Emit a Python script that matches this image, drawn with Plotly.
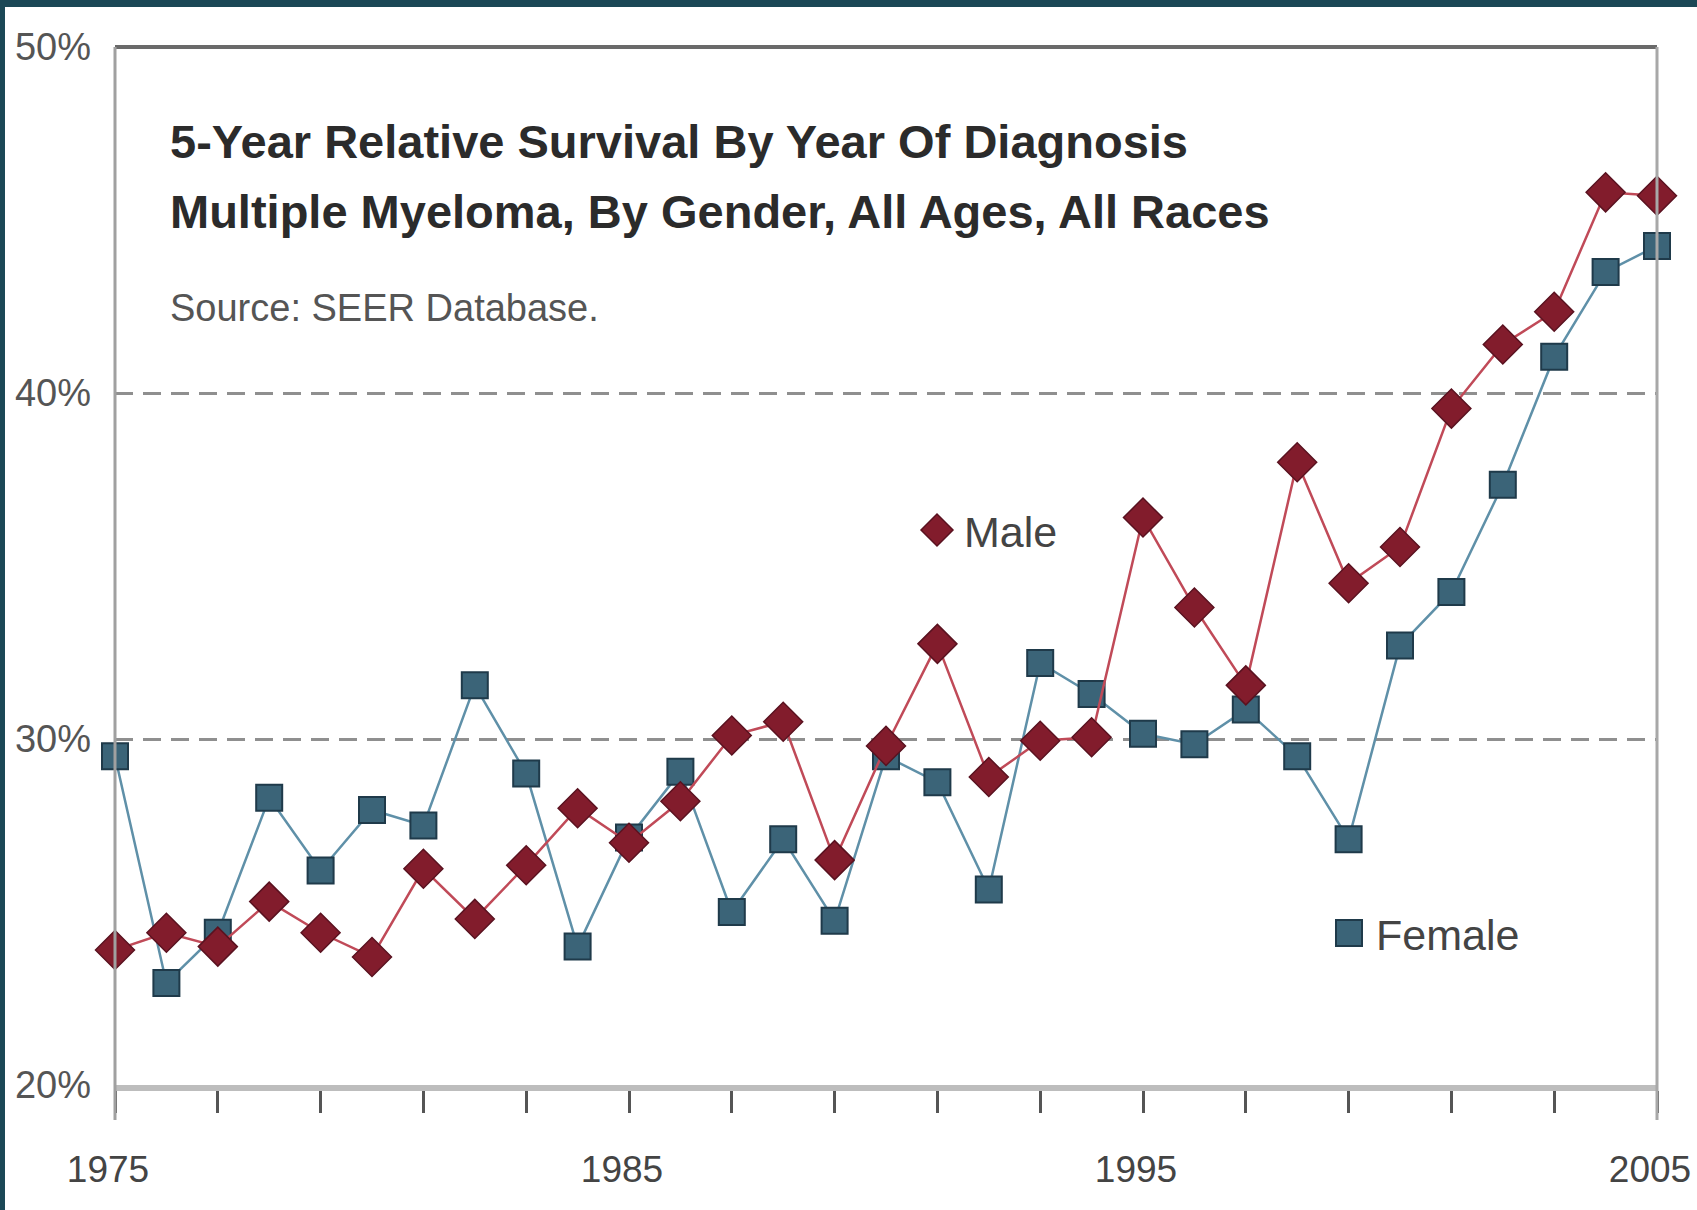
import plotly.graph_objects as go

years = list(range(1975, 2006))
male = [23.9, 24.4, 24.0, 25.3, 24.4, 23.7, 26.25, 24.8, 26.35, 28.0,
        27.0, 28.2, 30.1, 30.5, 26.5, 29.8, 32.75, 28.9, 29.95, 30.05,
        36.4, 33.8, 31.55, 38.0, 34.5, 35.55, 39.55, 41.4, 42.35, 45.8, 45.7]
female = [29.5, 22.95, 24.4, 28.3, 26.2, 27.95, 27.5, 31.55, 29.0, 24.0,
          27.15, 29.05, 25.0, 27.1, 24.75, 29.5, 28.75, 25.65, 32.2, 31.3,
          30.15, 29.85, 30.85, 29.5, 27.1, 32.7, 34.25, 37.35, 41.05, 43.5, 44.25]

x_tickvals = list(range(1975, 2006, 2))
x_ticktext = [str(v) if v in (1975, 1985, 1995, 2005) else "" for v in x_tickvals]
y_tickvals = [20, 30, 40, 50]
y_ticktext = ["20%", "30%", "40%", "50%"]

title_lines = ["5-Year Relative Survival By Year Of Diagnosis",
               "Multiple Myeloma, By Gender, All Ages, All Races"]
source_text = "Source: SEER Database."
series_names = ["Male", "Female"]

FONT = "Liberation Sans Narrow, Arial Narrow, Liberation Sans, Arial, sans-serif"
MALE_LINE = "#c04a58"
MALE_FILL = "#821c2c"
MALE_EDGE = "#5a1220"
FEM_LINE = "#5f90a8"
FEM_FILL = "#3b6478"
FEM_EDGE = "#1f3a4a"

W, H = 1697, 1210
L, R, T, B = 115, W - 1657, 47, H - 1085
pw, ph = W - L - R, H - T - B

def px2x(px):
    return (px - L) / pw

def py2y(py):
    return (H - B - py) / ph

fig = go.Figure()
fig.add_trace(go.Scatter(
    x=years, y=female, mode="lines+markers", name=series_names[1],
    line=dict(color=FEM_LINE, width=2.5),
    marker=dict(symbol="square", size=26, color=FEM_FILL,
                line=dict(color=FEM_EDGE, width=2)),
    cliponaxis=False, showlegend=False))
fig.add_trace(go.Scatter(
    x=years, y=male, mode="lines+markers", name=series_names[0],
    line=dict(color=MALE_LINE, width=2.5),
    marker=dict(symbol="diamond", size=30, color=MALE_FILL,
                line=dict(color=MALE_EDGE, width=1.5)),
    cliponaxis=False, showlegend=False))

shapes = [
    dict(type="rect", xref="paper", yref="paper", layer="below",
         x0=px2x(5), x1=px2x(W + 5), y0=py2y(7), y1=py2y(H + 5),
         fillcolor="white", line=dict(width=0)),
    dict(type="line", xref="paper", yref="paper", x0=0, x1=1, y0=1, y1=1,
         line=dict(color="#6a6a6a", width=4)),
    dict(type="line", xref="paper", yref="paper", x0=1, x1=1, y0=1, y1=py2y(1120),
         line=dict(color="#a8a8a8", width=3)),
    dict(type="line", xref="paper", yref="paper", x0=0, x1=0, y0=1, y1=py2y(1120),
         line=dict(color="#a0a0a0", width=3)),
    dict(type="path", xref="paper", yref="paper", xsizemode="pixel", ysizemode="pixel",
         xanchor=px2x(937), yanchor=py2y(530),
         path="M -16 0 L 0 16 L 16 0 L 0 -16 Z",
         fillcolor=MALE_FILL, line=dict(color=MALE_EDGE, width=1.5)),
    dict(type="rect", xref="paper", yref="paper", xsizemode="pixel", ysizemode="pixel",
         xanchor=px2x(1349), yanchor=py2y(933), x0=-13, x1=13, y0=-13, y1=13,
         fillcolor=FEM_FILL, line=dict(color=FEM_EDGE, width=2)),
]

annotations = [
    dict(xref="paper", yref="paper", x=px2x(168), y=py2y(141), xanchor="left", yanchor="middle",
         text="<b>" + title_lines[0] + "</b>", showarrow=False,
         font=dict(family=FONT, size=47, color="#2b2b2b")),
    dict(xref="paper", yref="paper", x=px2x(168), y=py2y(211), xanchor="left", yanchor="middle",
         text="<b>" + title_lines[1] + "</b>", showarrow=False,
         font=dict(family=FONT, size=47, color="#2b2b2b")),
    dict(xref="paper", yref="paper", x=px2x(168), y=py2y(308), xanchor="left", yanchor="middle",
         text=source_text, showarrow=False,
         font=dict(family=FONT, size=38, color="#555555")),
    dict(xref="paper", yref="paper", x=px2x(962), y=py2y(532), xanchor="left", yanchor="middle",
         text=series_names[0], showarrow=False,
         font=dict(family=FONT, size=43, color="#444444")),
    dict(xref="paper", yref="paper", x=px2x(1374), y=py2y(935), xanchor="left", yanchor="middle",
         text=series_names[1], showarrow=False,
         font=dict(family=FONT, size=43, color="#444444")),
]

fig.update_layout(
    width=W, height=H,
    margin=dict(l=L, r=R, t=T, b=B, pad=0),
    paper_bgcolor="#1b4856",
    plot_bgcolor="white",
    shapes=shapes,
    annotations=annotations,
    showlegend=False,
    xaxis=dict(range=[1975, 2005], tickmode="array", tickvals=x_tickvals, ticktext=x_ticktext,
               ticks="outside", ticklen=22, tickwidth=3, tickcolor="#555555",
               showline=True, linecolor="#bdbdbd", linewidth=6,
               showgrid=False, zeroline=False, ticklabelstandoff=25,
               ticklabelshift=-7, ticklabeloverflow="allow", automargin=False,
               tickfont=dict(family=FONT, size=37, color="#444444")),
    yaxis=dict(range=[20, 50], tickmode="array", tickvals=y_tickvals, ticktext=y_ticktext,
               ticks="", showline=False, showgrid=True, gridcolor="#8f8f8f", gridwidth=3,
               griddash="18px,10px", zeroline=False, ticklabelstandoff=23, automargin=False,
               tickfont=dict(family=FONT, size=38, color="#555555")),
)

fig.write_html("out.html", config={"displayModeBar": False},
               post_script="document.body.style.margin='0';document.body.style.overflow='hidden';")
